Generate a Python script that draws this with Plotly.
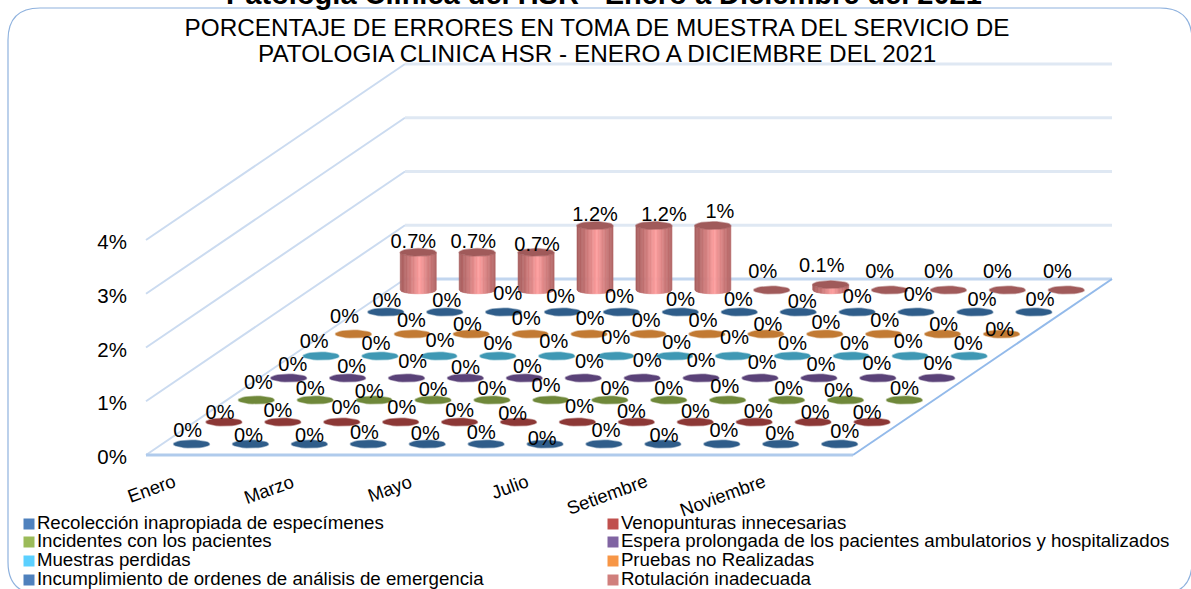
import math
import plotly.graph_objects as go

# ---------- data ----------
MONTHS = ["Enero", "Febrero", "Marzo", "Abril", "Mayo", "Junio", "Julio", "Agosto",
          "Setiembre", "Octubre", "Noviembre", "Diciembre"]
SHOWN_MONTHS = ["Enero", "Marzo", "Mayo", "Julio", "Setiembre", "Noviembre"]
SERIES = ["Recolección inapropiada de especímenes", "Venopunturas innecesarias",
          "Incidentes con los pacientes", "Espera prolongada de los pacientes ambulatorios y hospitalizados",
          "Muestras perdidas", "Pruebas no Realizadas",
          "Incumplimiento de ordenes de análisis de emergencia", "Rotulación inadecuada"]
S1 = [0] * 12
S2 = [0] * 12
S3 = [0] * 12
S4 = [0] * 12
S5 = [0] * 12
S6 = [0] * 12
S7 = [0] * 12
S8 = [0.7, 0.7, 0.7, 1.2, 1.2, 1.2, 0, 0.1, 0, 0, 0, 0]
S8_LABELS = ["0.7%", "0.7%", "0.7%", "1.2%", "1.2%", "1%", "0%", "0.1%", "0%", "0%", "0%", "0%"]
VALUES = [S1, S2, S3, S4, S5, S6, S7, S8]
PCT_TICKS = [0, 1, 2, 3, 4]
TITLE_LINE_1 = "PORCENTAJE DE ERRORES EN TOMA DE MUESTRA DEL SERVICIO DE"
TITLE_LINE_2 = "PATOLOGIA CLINICA HSR - ENERO A DICIEMBRE DEL 2021"
CROPPED_HEADING = "Patología Clínica del HSR - Enero a Diciembre del 2021"

# ---------- styles / geometry ----------
W, H = 1191, 589
FONT = "Liberation Sans"
X0, Y0 = 146.0, 455.0          # front-left floor corner
FW = 707.0                     # floor width
DX, DY = 259.0, 176.0          # depth shear of the floor
UNIT = 53.75                   # pixels per 1 %
RX, RY = 18.0, 3.8             # cylinder ellipse radii
TOPS = ["#2F5D8A", "#8C3836", "#6F883A", "#5A4278", "#3F98B4", "#C27A33", "#2F5D8A", "#A05A5A"]
LEG = ["#4F81BD", "#C0504D", "#9BBB59", "#8064A2", "#5BD0FF", "#F79646", "#4F81BD", "#D07F7C"]

LABEL_DX = [
    [-4, -2, 0, -4, -2, -5, -3, 2, 1, 2, -1, 5],
    [-4, -5, 4, 1, 0, -6, 2, -5, 0, 4, 2, -5],
    [2, -5, -5, 0, 0, -5, 5, 0, -3, 2, -7, 0],
    [4, 4, 6, 0, 3, 6, 5, 0, 2, 2, -1, 1],
    [-7, -4, 1, 0, -3, 0, 2, 1, 0, 3, -2, -1],
    [-9, -1, -4, -4, 1, -2, -4, 2, 1, 1, 1, -2],
    [1, 2, 4, -2, -2, 0, -1, 4, 0, 2, 7, 6],
    [-5, -4, 1, 0, 10, 7, -9, -9, -10, -10, -10, -9],
]
LABEL_DY = [
    [-12, -7, -7, -10, -9, -10, -4, -12, -7, -12, -9, -11],
    [-8, -10, -13, -13, -10, -7, -14, -9, -9, -9, -8, -8],
    [-16, -10, -7, -9, -10, -13, -10, -10, -12, -10, -8, -10],
    [-12, -10, -15, -9, -10, -15, -16, -16, -14, -12, -13, -13],
    [-13, -11, -14, -11, -13, -17, -12, -17, -11, -11, -13, -11],
    [-16, -12, -8, -14, -14, -12, -12, -8, -10, -12, -8, -3],
    [-10, -10, -17, -14, -14, -11, -11, -9, -14, -16, -11, -11],
    [-9, -9, -6, -10, -10, -13, -17, -18, -17, -17, -17, -17],
]


def project(month_pos, depth_pos, pct):
    """month_pos in 0..12, depth_pos in 0..8, pct in percent -> drawing coordinates."""
    d = depth_pos / len(VALUES)
    return (X0 + FW * month_pos / len(MONTHS) + DX * d,
            Y0 - DY * d - UNIT * pct)


def ellipse(cx, cy, n=28):
    xs = [cx + RX * math.cos(2 * math.pi * i / n) for i in range(n + 1)]
    ys = [cy + RY * math.sin(2 * math.pi * i / n) for i in range(n + 1)]
    return xs + [None], ys + [None]


def mix(a, b, t):
    ca = [int(a[i:i + 2], 16) for i in (1, 3, 5)]
    cb = [int(b[i:i + 2], 16) for i in (1, 3, 5)]
    return "rgb(%d,%d,%d)" % tuple(round(p + (q - p) * t) for p, q in zip(ca, cb))


def soft(hex_col, alpha):
    return "rgba(%d,%d,%d,%g)" % (int(hex_col[1:3], 16), int(hex_col[3:5], 16), int(hex_col[5:7], 16), alpha)


fig = go.Figure()


def line(xs, ys, color, width):
    fig.add_trace(go.Scatter(x=xs, y=ys, mode="lines", line=dict(color=color, width=width),
                             hoverinfo="skip", showlegend=False))


# walls: every % gridline runs along the side wall and then the back wall
for p in PCT_TICKS:
    a = project(0, 0, p)
    b = project(0, 8, p)
    c = project(12, 8, p)
    line([a[0], b[0]], [a[1], b[1]], "#CBDBF0", 2)
    line([b[0], c[0]], [b[1], c[1]], "#DFE8F3" if p else "#C2D6EF", 3)

# floor front and right edges
a, b, c = project(0, 0, 0), project(12, 0, 0), project(12, 8, 0)
line([a[0], b[0]], [a[1], b[1]], "#B0CBEC", 3)
line([b[0], c[0]], [b[1], c[1]], "#93BAEA", 2)

# series, back row first
STRIPS = 26
for s in range(len(VALUES) - 1, -1, -1):
    vals = VALUES[s]
    # cylinder bodies
    if any(vals):
        for j in range(STRIPS):
            u0 = -1 + 2 * j / STRIPS
            u1 = -1 + 2 * (j + 1) / STRIPS
            t = 1 - abs(((u0 + u1) / 2 - 0.1)) / 1.1
            col = mix("#A85E5E", "#FFA0A0", min(1, t ** 1.3))
            xs, ys = [], []
            for m, v in enumerate(vals):
                if v <= 0:
                    continue
                cx, cy = project(m + 0.5, s + 0.5, 0)
                _, top = project(m + 0.5, s + 0.5, v)
                b0 = RY * math.sqrt(max(0, 1 - u0 * u0))
                b1 = RY * math.sqrt(max(0, 1 - u1 * u1))
                xs += [cx + RX * u0, cx + RX * u1, cx + RX * u1, cx + RX * u0, cx + RX * u0, None]
                ys += [cy + b0, cy + b1, top + b1, top + b0, cy + b0, None]
            fig.add_trace(go.Scatter(x=xs, y=ys, mode="lines", fill="toself", fillcolor=col,
                                     line=dict(color=col, width=0.6), hoverinfo="skip", showlegend=False))
    # top faces
    ex, ey = [], []
    for m, v in enumerate(vals):
        xs, ys = ellipse(*project(m + 0.5, s + 0.5, v))
        ex += xs
        ey += ys
    fig.add_trace(go.Scatter(x=ex, y=ey, mode="lines", fill="toself", fillcolor=TOPS[s],
                             line=dict(color=soft(TOPS[s], 0.45), width=1.5), name=SERIES[s],
                             hoverinfo="skip", showlegend=False))

# data labels
for s, vals in enumerate(VALUES):
    pts = [project(m + 0.5, s + 0.5, v) for m, v in enumerate(vals)]
    labels = S8_LABELS if s == len(VALUES) - 1 else ["%g%%" % v for v in vals]
    fig.add_trace(go.Scatter(
        x=[p[0] + LABEL_DX[s][m] for m, p in enumerate(pts)],
        y=[p[1] + LABEL_DY[s][m] for m, p in enumerate(pts)],
        text=labels, mode="text", textposition="middle center",
        textfont=dict(family=FONT, size=20, color="#000000"),
        hoverinfo="skip", showlegend=False, cliponaxis=False))

# value axis labels
tick_pts = [project(0, 0, p) for p in PCT_TICKS]
fig.add_trace(go.Scatter(x=[q[0] - 19 for q in tick_pts], y=[q[1] + 4 for q in tick_pts],
                         text=["%d%%" % p for p in PCT_TICKS], mode="text", textposition="middle left",
                         textfont=dict(family=FONT, size=20.5, color="#000000"),
                         hoverinfo="skip", showlegend=False))

# legend, two columns
LEG_X = [29, 613]
LEG_Y = [524, 542, 561, 580]
for i, name in enumerate(SERIES):
    lx, ly = LEG_X[i % 2], LEG_Y[i // 2]
    fig.add_trace(go.Scatter(x=[lx], y=[ly], mode="markers+text", text=[name],
                             textposition="middle right",
                             marker=dict(symbol="square", size=11, color=LEG[i], line=dict(width=0)),
                             textfont=dict(family=FONT, size=18.7, color="#000000"),
                             hoverinfo="skip", showlegend=False, cliponaxis=False))

annotations = []
for name in SHOWN_MONTHS:
    m = MONTHS.index(name)
    tx, _ = project(m + 0.5, 0, 0)
    annotations.append(dict(x=tx + 5.5, y=468, xref="x", yref="y", text=name, showarrow=False,
                            textangle=-20, xanchor="right", yanchor="top",
                            font=dict(family=FONT, size=18.5, color="#000000")))
annotations.append(dict(x=597 / W, y=1 - 54 / H, xref="paper", yref="paper", text=TITLE_LINE_2,
                        showarrow=False, xanchor="center", yanchor="middle",
                        font=dict(family=FONT, size=24.3, color="#000000")))
annotations.append(dict(x=604 / W, y=1 + 6 / H, xref="paper", yref="paper", text="<b>%s</b>" % CROPPED_HEADING,
                        showarrow=False, xanchor="center", yanchor="middle",
                        font=dict(family=FONT, size=29, color="#000000")))

R = 32
L, T, Rt, B = 8, 8, 1192, 594
border = (f"M{L},{T+R} Q{L},{T} {L+R},{T} L{Rt-R},{T} Q{Rt},{T} {Rt},{T+R} "
          f"L{Rt},{B-R} Q{Rt},{B} {Rt-R},{B} L{L+R},{B} Q{L},{B} {L},{B-R} Z")

fig.update_layout(
    width=W, height=H, autosize=False,
    margin=dict(l=0, r=0, t=0, b=0),
    paper_bgcolor="#FFFFFF", plot_bgcolor="#FFFFFF",
    showlegend=False,
    xaxis=dict(range=[0, W], visible=False, fixedrange=True),
    yaxis=dict(range=[H, 0], visible=False, fixedrange=True),
    title=dict(text=TITLE_LINE_1, x=597 / W, xanchor="center", y=1 - 27 / H, yanchor="middle", yref="container",
               font=dict(family=FONT, size=24.3, color="#000000")),
    annotations=annotations,
    shapes=[dict(type="path", path=border, xref="x", yref="y",
                 line=dict(color="#8FB2DE", width=1.2), fillcolor="rgba(0,0,0,0)", layer="below")],
)

fig.write_html("out.html", config={"displayModeBar": False}, post_script="document.body.style.margin='0';")
